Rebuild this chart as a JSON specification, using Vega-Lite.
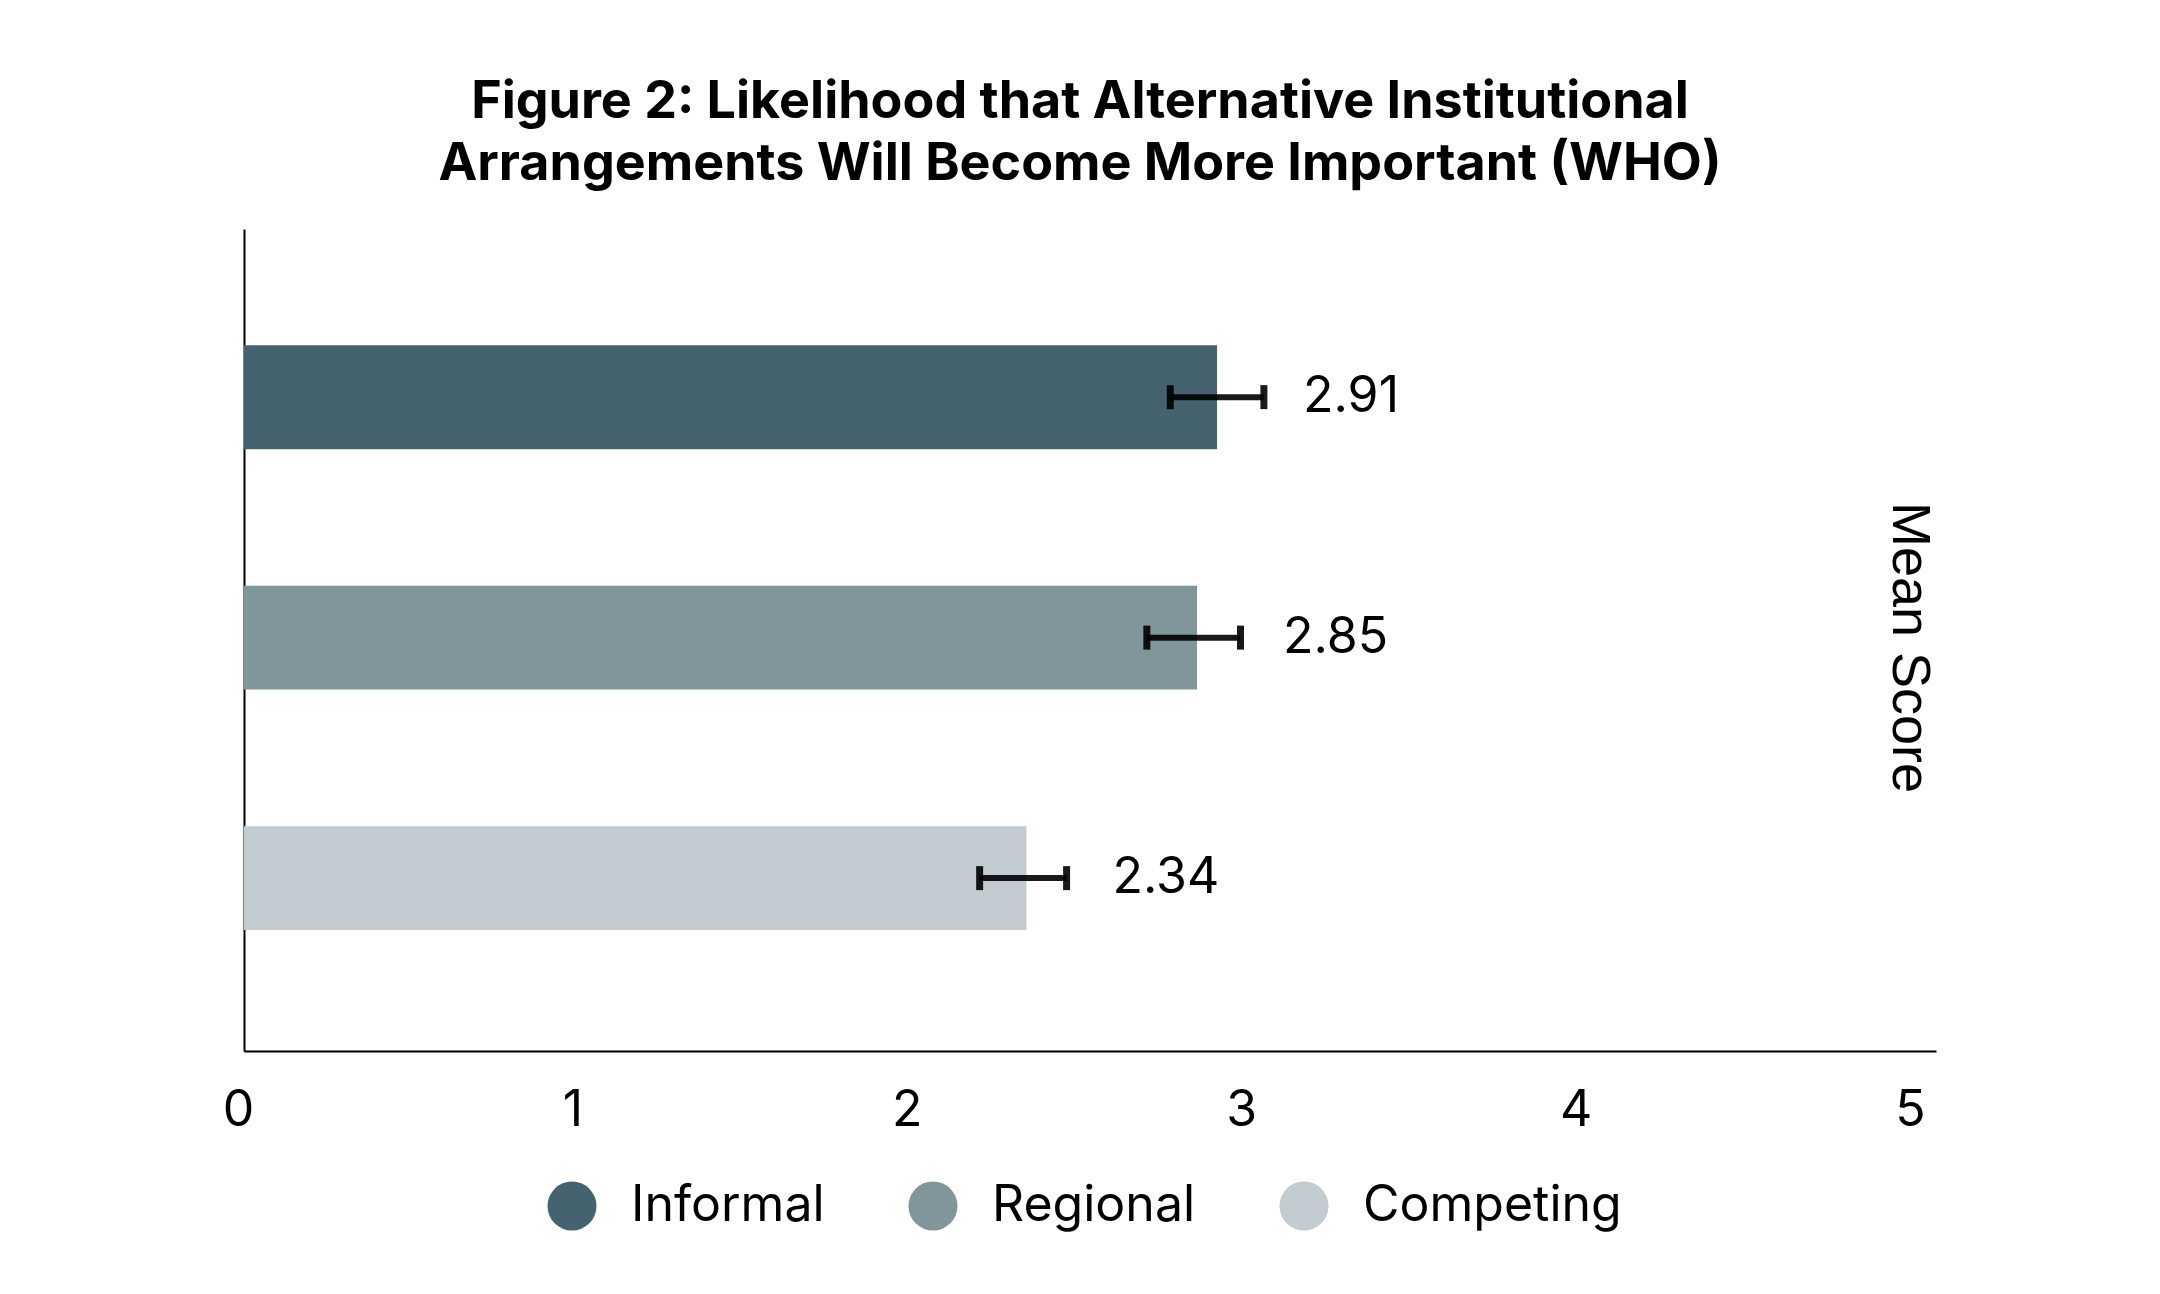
{
  "$schema": "https://vega.github.io/schema/vega-lite/v6.json",
  "autosize": {"type": "none"},
  "width": 1692,
  "height": 822,
  "padding": {"left": 244, "top": 229, "right": 224, "bottom": 243},
  "background": "white",
  "config": {
    "font": "Inter",
    "view": {"stroke": null},
    "axis": {"grid": false, "domainColor": "black", "domainWidth": 2}
  },
  "title": {
    "text": ["Figure 2: Likelihood that Alternative Institutional", "Arrangements Will Become More Important (WHO)"],
    "font": "Inter",
    "fontSize": 52,
    "fontWeight": "bold",
    "lineHeight": 62,
    "color": "black",
    "anchor": "middle",
    "dx": -10,
    "offset": 38
  },
  "data": {
    "values": [
      {"type": "Informal", "mean": 2.91, "lo": 2.77, "hi": 3.05},
      {"type": "Regional", "mean": 2.85, "lo": 2.7, "hi": 2.98},
      {"type": "Competing", "mean": 2.34, "lo": 2.2, "hi": 2.46}
    ]
  },
  "encoding": {
    "y": {
      "field": "type",
      "type": "nominal",
      "sort": ["Informal", "Regional", "Competing"],
      "scale": {"paddingInner": 0.5676, "paddingOuter": 0.4928, "align": 0.49},
      "axis": {"labels": false, "ticks": false, "title": null}
    }
  },
  "layer": [
    {
      "mark": {"type": "bar"},
      "encoding": {
        "x": {
          "field": "mean",
          "type": "quantitative",
          "scale": {"domain": [0, 5.06], "nice": false},
          "axis": {
            "values": [0, 1, 2, 3, 4, 5],
            "format": "d",
            "ticks": false,
            "labelFontSize": 50,
            "labelColor": "black",
            "labelPadding": 34,
            "labelOffset": -6,
            "labelFlush": false,
            "title": "Mean Score",
            "titleFont": "Liberation Sans",
            "titleFontSize": 54,
            "titleFontWeight": "normal",
            "titleColor": "black",
            "titleAngle": 90,
            "titleAlign": "center",
            "titleBaseline": "middle",
            "titleX": 1664,
            "titleY": -404
          }
        },
        "color": {
          "field": "type",
          "type": "nominal",
          "sort": ["Informal", "Regional", "Competing"],
          "scale": {"domain": ["Informal", "Regional", "Competing"], "range": ["#45636e", "#81969b", "#c1cbd0"]},
          "legend": {
            "title": null,
            "orient": "none",
            "legendX": 303,
            "legendY": 952,
            "padding": 0,
            "direction": "horizontal",
            "symbolType": "circle",
            "symbolSize": 2401,
            "symbolOpacity": 1,
            "symbolStrokeWidth": 0,
            "labelFontSize": 50,
            "labelColor": "black",
            "labelLimit": 0,
            "labelOffset": 34,
            "columnPadding": 83
          }
        }
      }
    },
    {
      "mark": {"type": "rule", "color": "black", "opacity": 0.9, "strokeWidth": 6},
      "encoding": {
        "x": {"field": "lo", "type": "quantitative"},
        "x2": {"field": "hi"}
      }
    },
    {
      "mark": {"type": "tick", "color": "black", "opacity": 0.9, "size": 24, "thickness": 7},
      "encoding": {"x": {"field": "lo", "type": "quantitative"}}
    },
    {
      "mark": {"type": "tick", "color": "black", "opacity": 0.9, "size": 24, "thickness": 7},
      "encoding": {"x": {"field": "hi", "type": "quantitative"}}
    },
    {
      "mark": {"type": "text", "align": "left", "baseline": "middle", "dx": 86, "fontSize": 50, "color": "black"},
      "encoding": {
        "x": {"field": "mean", "type": "quantitative"},
        "text": {"field": "mean", "type": "quantitative", "format": ".2f"}
      }
    }
  ]
}
